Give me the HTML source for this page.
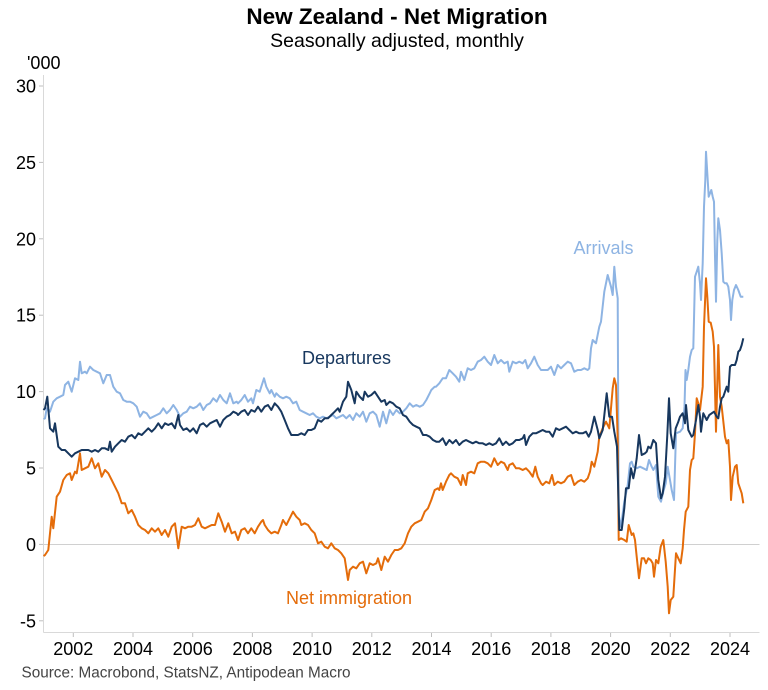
<!DOCTYPE html>
<html><head><meta charset="utf-8"><style>
html,body{margin:0;padding:0;background:#fff;}
svg{display:block;font-family:"Liberation Sans",Arial,sans-serif;}
</style></head><body>
<svg width="768" height="690" viewBox="0 0 768 690" xmlns="http://www.w3.org/2000/svg">
<rect width="768" height="690" fill="#fff"/>
<text x="397" y="24" text-anchor="middle" font-size="22.5" font-weight="bold" fill="#000">New Zealand - Net Migration</text>
<text x="397" y="47" text-anchor="middle" font-size="19.5" fill="#000">Seasonally adjusted, monthly</text>
<text x="27" y="69" font-size="18" fill="#000">'000</text>
<!-- axes -->
<line x1="43.5" y1="75" x2="43.5" y2="632.5" stroke="#d9d9d9" stroke-width="1"/>
<line x1="43.5" y1="632.5" x2="759.5" y2="632.5" stroke="#d9d9d9" stroke-width="1"/>
<line x1="43.5" y1="544.5" x2="759.5" y2="544.5" stroke="#d0d0d0" stroke-width="1"/>
<g stroke="#bfbfbf" stroke-width="1">
<line x1="39" y1="86" x2="43" y2="86"/><line x1="39" y1="162.4" x2="43" y2="162.4"/><line x1="39" y1="238.8" x2="43" y2="238.8"/><line x1="39" y1="315.2" x2="43" y2="315.2"/><line x1="39" y1="391.6" x2="43" y2="391.6"/><line x1="39" y1="468" x2="43" y2="468"/><line x1="39" y1="544.4" x2="43" y2="544.4"/><line x1="39" y1="620.8" x2="43" y2="620.8"/>
<line x1="73.3" y1="633" x2="73.3" y2="637"/><line x1="133" y1="633" x2="133" y2="637"/><line x1="192.7" y1="633" x2="192.7" y2="637"/><line x1="252.4" y1="633" x2="252.4" y2="637"/><line x1="312.1" y1="633" x2="312.1" y2="637"/><line x1="371.8" y1="633" x2="371.8" y2="637"/><line x1="431.5" y1="633" x2="431.5" y2="637"/><line x1="491.2" y1="633" x2="491.2" y2="637"/><line x1="550.9" y1="633" x2="550.9" y2="637"/><line x1="610.6" y1="633" x2="610.6" y2="637"/><line x1="670.3" y1="633" x2="670.3" y2="637"/><line x1="730" y1="633" x2="730" y2="637"/>
</g>
<g font-size="18" fill="#000" text-anchor="end">
<text x="36" y="92.5">30</text><text x="36" y="168.9">25</text><text x="36" y="245.3">20</text><text x="36" y="321.7">15</text><text x="36" y="398.1">10</text><text x="36" y="474.5">5</text><text x="36" y="550.9">0</text><text x="36" y="627.3">-5</text>
</g>
<g font-size="18" fill="#000" text-anchor="middle">
<text x="73.3" y="655">2002</text><text x="133" y="655">2004</text><text x="192.7" y="655">2006</text><text x="252.4" y="655">2008</text><text x="312.1" y="655">2010</text><text x="371.8" y="655">2012</text><text x="431.5" y="655">2014</text><text x="491.2" y="655">2016</text><text x="550.9" y="655">2018</text><text x="610.6" y="655">2020</text><text x="670.3" y="655">2022</text><text x="730" y="655">2024</text>
</g>
<text x="21.5" y="677.5" font-size="15.3" fill="#444">Source: Macrobond, StatsNZ, Antipodean Macro</text>

<!-- Arrivals -->
<polyline fill="none" stroke="#8EB4E3" stroke-width="2" stroke-linejoin="round" points="
43.5,419 45,418.3 46.7,408.3 50,411.7 53.3,401.7 56.7,398.3 60,396.7 63.3,395 65,385 68.3,381.7 71.7,391.7 75,378.3 78.3,380 80,361.7 81.7,373.3 85,371.7 86.7,373.3 90,366.7 93.3,370 96.7,371.7 100,373.3 103.3,383.3 106.7,375 110,375 113.3,386.7 116.7,391.7 120,393.3 123.3,400 126.7,401.7 130,401.7 133.3,403.3 136.7,406.7 140,416.7 143.3,411.7 146.7,413.3 150,418.3 153.3,416.7 156.7,415 160,413.3 163.3,408.3 166.7,413.3 170,410 173.3,405 176.7,410 180,416.7 183.3,413.3 186.7,411.7 190,406.7 193.3,408.3 196.7,406.7 200,403.3 203.3,410 206.7,405 210,403.3 213.3,398.3 216.7,401.7 220,395 223.3,400 226.7,403.3 230,393.3 233.3,403.3 236.7,401.7 238,403.3 241.3,400 244.7,395 248,401.7 251.3,398.3 253,403.3 256.3,390 259.7,391.7 261.3,386.7 264,378.3 266.3,386.7 269.7,393.3 271.3,390 274.7,396.7 276.3,393.3 279.7,396.7 283,398.3 286.3,396.7 289.7,398.3 293,403.3 296.3,401.7 299.7,410 303,411.7 306.3,413.3 309.7,415 313,413.3 316.3,416.7 319.7,418.3 323,416.7 326.3,418.3 329.7,416.7 333,415 336.3,418.3 339.7,416.7 343,415 346.3,418.3 349.7,415 353,420 356.3,413.3 359.7,416.7 363,411.7 366.3,421.7 369.7,413.3 373,411.7 376.3,415 379.7,426.7 383,411.7 386.3,423.3 389.7,410 393,415 396.3,410 399.7,413.3 403,411.7 406.3,408.3 409.7,403.3 413,406.7 416.3,405 419.7,406.7 423,405 426.3,400 429.7,393.3 431.3,390 434.7,386.7 436,386.7 439.3,383.3 442.7,378.3 446,378.3 449.3,370 452.7,373.3 456,376.7 459.3,381.7 461,371.7 464.3,380 467.7,368.3 471,370 474.3,368.3 477.7,361.7 481,360 484.3,356.7 487.7,361.7 491,365 494.3,355 497.7,363.3 501,360 504.3,363.3 507.7,361.7 509.3,371.7 512.7,361.7 516,363.3 519.3,361.7 522.7,363.3 525.3,360 527.7,368.3 531,363.3 534.3,356.7 537.7,365 541,370 544.3,370 547.7,370 551,366.7 554.3,375 557.7,365 561,368.3 564.3,365 567.7,361.7 571,363.3 574.3,371.7 577.7,370 581,370 584.3,368.3 587.7,370 589.3,368.3 591,348.3 592.7,340 596,343.3 599.3,326.7 601,321.7 604.3,291.7 607.7,275 611,286.7 612.7,295 614.3,266.7 616,286.7 617.7,298.3 618.7,515 621,526.7 624.3,501.7 627.7,485 630,463.3 631.7,461.7 633.3,466.7 636.7,468.3 640,466.7 643.3,468.3 646.7,470 649,460 651.7,466.7 653.3,470 656,465 658.3,496.7 661,501.7 663.3,491.7 665.7,483.3 667.7,466.7 670,480 671.7,490 674,500 676,433.3 680,431.7 682.7,428.3 684.5,406.7 685.5,370 686.7,380 688.3,370 690,356.7 691.7,350 693.3,348.3 695,276.7 696.7,271.7 698.3,266.7 700,283.3 701,300 702.7,263.3 704,206.7 705.3,180 706,151.7 707.3,173.3 708.7,196.7 710,193.3 711.3,190 712.7,196.7 714,201.7 715,256.7 716,301.7 717.3,240 718.3,218.3 720,230 721.7,253.3 723.3,281.7 725,283.3 726.7,283.3 728.3,286.7 730,300 731,320 732.3,300 734,290 736,285 738.3,290 740.7,296.7 743.3,296.7"/>

<!-- Net immigration -->
<polyline fill="none" stroke="#E46C0A" stroke-width="2" stroke-linejoin="round" points="
43.5,556 45,555 48.3,550 51.7,516.7 53.3,528.3 56.7,496.7 60,491.7 63.3,480 66.7,475 70,473.3 71.7,480 75,471.7 76.7,473.3 80,453.3 81.7,470 85,468.3 88.3,466.7 91.7,458.3 95,468.3 98.3,463.3 101.7,476.7 105,470 108.3,473.3 111.7,480 115,486.7 118.3,493.3 121.7,503.3 125,503.3 128.3,513.3 131.7,510 135,516.7 138.3,525 141.7,528.3 145,530 148.3,533.3 151.7,528.3 155,531.7 158.3,528.3 161.7,535 165,530 168.3,536.7 171.7,526.7 175,523.3 178.3,548.3 181.7,526.7 185,528.3 188.3,526.7 191.7,526.7 195,525 198.3,518.3 201.7,526.7 205,528.3 208.3,526.7 211.7,525 215,525 218.3,513.3 221.7,521.7 225,531.7 228.3,523.3 231.7,533.3 235,531.7 238,540 241.3,530 244.7,528.3 248,533.3 251.3,528.3 254.7,533.3 258,526.7 261.3,521.7 263,520 264.7,525 268,530 271.3,533.3 274.7,531.7 278,533.3 281.3,525 283,520 286.3,525 289.7,518.3 293,511.7 296.3,516.7 299.7,520 301.3,525 304.7,523.3 308,525 311.3,530 314.7,533.3 318,543.3 321.3,541.7 324.7,546.7 328,548.3 331.3,543.3 334.7,548.3 338,550 341.3,553.3 344.7,558.3 348,580 349.7,570 353,566.7 356.3,568.3 359.7,563.3 363,561.7 366.3,573.3 369.7,563.3 373,565 376.3,563.3 378,558.3 381.3,570 384.7,556.7 388,561.7 391.3,555 394.7,550 398,550 401.3,548.3 404.7,543.3 408,533.3 411.3,526.7 414.7,523.3 418,521.7 421.3,520 424.7,511.7 428,508.3 431.3,500 434.7,490 438,488.3 439.3,490 441,483.3 442.7,490 446,481.7 449.3,475 451,473.3 454.3,476.7 457.7,478.3 461,485 462.7,475 466,485 467.7,473.3 471,471.7 474.3,473.3 477.7,463.3 481,461.7 484.3,461.7 487.7,463.3 491,466.7 494.3,458.3 497.7,465 501,461.7 504.3,463.3 507.7,470 509.3,465 512.7,463.3 516,468.3 519.3,468.3 522.7,470 526,468.3 529.3,471.7 532.7,476.7 535.3,466.7 537.7,476.7 541,483.3 542.7,485 546,481.7 549.3,483.3 552,475 554.3,485 557.7,481.7 561,483.3 564.3,481.7 567.7,476.7 571,475 574.3,485 577.7,481.7 581,480 584.3,481.7 587.7,478.3 590,471.7 591.7,461.7 594.3,466.7 597.7,451.7 599.3,436.7 602.7,428.3 606,421.7 609.3,428.3 612.7,388.3 614.3,378.3 616,385 617.7,438.3 618.7,540 621,538.3 624.3,540 626.7,541.7 628.7,525 631.7,535 633.3,533.3 635,540 636.7,556.7 639,578.3 641.7,558.3 644,558.3 646,563.3 648.3,558.3 650.7,560 652.7,563.3 654,576.7 656,560 658.3,563.3 660.7,546.7 663.3,540 665.7,561.7 667.7,586.7 669,613.3 670.7,600 673.3,596.7 676,553.3 678.3,558.3 680.7,563.3 682.7,548.3 684,530 685.7,511.7 688.3,506.7 690,470 691.7,460 693.3,458.3 695,433.3 696.7,398.3 698.3,403.3 700,410 702.7,386.7 704,326.7 706,278.3 707.3,296.7 708.7,321.7 710.7,322.7 712.7,331.7 714,346.7 716,431.7 718.3,345 720,396.7 721.7,406.7 725,436.7 726.7,443.3 728.3,440 730,466.7 731,500 732.7,476.7 735,466.7 736.7,465 738.3,483.3 741.7,493.3 743.3,503.3"/>

<!-- Departures -->
<polyline fill="none" stroke="#17375E" stroke-width="2" stroke-linejoin="round" points="
43.5,410 45,408.3 47.3,396.7 50,428.3 53.3,431.7 55,423.3 58.3,446.7 61.7,450 65,450 68.3,453.3 71.7,456.7 75,453.3 78.3,451.7 81.7,450 85,450 88.3,450 91.7,451.7 95,450 98.3,451.7 101.7,448.3 105,448.3 108.3,450 110,441.7 111.7,451.7 115,446.7 118.3,443.3 121.7,440 125,441.7 128.3,436.7 131.7,435 135,438.3 138.3,433.3 141.7,435 145,431.7 148.3,428.3 151.7,431.7 155,428.3 158.3,423.3 161.7,428.3 165,423.3 168.3,425 171.7,423.3 175,428.3 178.3,415 180,425 183.3,430 186.7,428.3 190,431.7 193.3,428.3 196.7,433.3 200,425 203.3,423.3 206.7,426.7 210,423.3 213.3,421.7 216.7,420 220,426.7 223.3,420 226.7,416.7 230,415 233.3,411.7 236.7,413.3 238,415 241.3,411.7 244.7,410 248,415 251.3,410 254.7,411.7 258,406.7 261.3,411.7 264.7,406.7 268,405 271.3,410 274.7,403.3 278,406.7 281.3,411.7 284.7,420 288,428.3 291.3,435 294.7,435 298,435 301.3,433.3 304.7,435 308,430 311.3,430 314.7,428.3 318,420 321.3,421.7 324.7,418.3 328,418.3 331.3,415 334.7,411.7 338,408.3 339.7,411.7 343,401.7 346.3,396.7 348,381.7 351.3,390 354.7,403.3 356.3,391.7 359.7,396.7 363,400 364.7,391.7 368,396.7 371.3,395 374.7,391.7 378,396.7 381.3,401.7 384.7,400 386.3,405 389.7,401.7 393,403.3 396.3,406.7 399.7,408.3 403,415 406.3,416.7 409.7,421.7 413,425 416.3,426.7 419.7,428.3 423,435 426.3,435 429.7,436.7 433,440 436.3,441.7 439.3,441.7 442.7,438.3 446,445 449.3,440 452.7,443.3 456,440 459.3,445 462.7,441.7 466,440 469.3,441.7 472.7,443.3 476,441.7 479.3,443.3 482.7,443.3 486,445 489.3,443.3 492.7,445 496,443.3 499.3,438.3 502.7,445 506,441.7 509.3,445 512.7,443.3 516,440 519.3,440 522.7,438.3 524.3,435 526,445 529.3,436.7 532.7,433.3 536,433.3 539.3,431.7 542.7,430 546,431.7 549.3,431.7 552.7,436.7 556,428.3 559.3,430 562.7,428.3 566,426.7 569.3,430 572.7,433.3 576,431.7 579.3,433.3 582.7,433.3 586,431.7 588.7,436.7 591,431.7 594.3,416.7 597.7,430 599.3,438.3 602.7,430 606.7,393.3 609.3,416.7 612,416.7 614.3,431.7 617,446.7 619.3,530 621.7,530 624.3,508.3 626,488.3 628.7,488.3 631,468.3 633.3,478.3 635,470 636.7,458.3 639,435 641.7,455 645,453.3 646.7,451.7 648.3,446.7 650.7,448.3 653.3,440 656,443.3 658.3,480 661,498.3 662.7,493.3 665,476.7 667.3,435 669,398.3 670.7,433.3 673.3,448.3 675.7,428.3 678.3,421.7 680,416.7 682.7,413.3 685,423.3 686,405 688.3,430 691.7,436.7 693.3,435 696,420 698.3,405 700,416.7 701,431.7 703.3,413.3 706.7,420 709.3,415 711.7,413.3 714,411.7 716.7,416.7 718.3,418.3 720,406.7 721.7,398.3 723.3,396.7 725,391.7 726.7,386.7 728.3,391.7 730,366.7 731.7,365 735,365 736.7,360 738.3,351.7 740,350 741.7,345 743.3,338.3"/>

<!-- series labels -->
<text x="346.5" y="364" text-anchor="middle" font-size="18" fill="#17375E">Departures</text>
<text x="603.5" y="254" text-anchor="middle" font-size="18" fill="#8EB4E3">Arrivals</text>
<text x="349" y="604" text-anchor="middle" font-size="18" fill="#E46C0A">Net immigration</text>
</svg>
</body></html>
